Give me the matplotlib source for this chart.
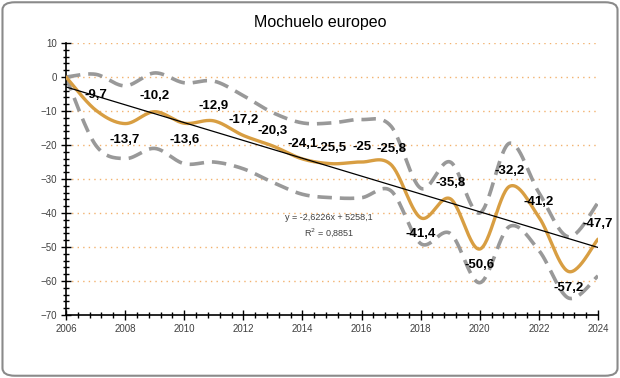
import matplotlib
matplotlib.use("Agg")
import matplotlib.pyplot as plt
import numpy as np
from matplotlib.patches import FancyBboxPatch
from matplotlib.ticker import MultipleLocator

years = list(range(2006, 2025))
index = [0, -9.7, -13.7, -10.2, -13.6, -12.9, -17.2, -20.3, -24.1, -25.5,
         -25, -25.8, -41.4, -35.8, -50.6, -32.2, -41.2, -57.2, -47.7]
upper = [0, 0.8, -2.6, 1.2, -1.7, -1.2, -5.5, -10.5, -13.5, -13.5,
         -12.5, -14.5, -32.7, -25, -40, -19.5, -34, -47, -37]
lower = [0, -20, -24, -21, -25.5, -25, -27, -31, -34.5, -35.5,
         -35.5, -33.5, -49, -46, -60.5, -44, -51, -65, -58.5]
label_side = [0, 1, -1, 1, -1, 1, 1, 1, 1, 1, 1, 1, -1, 1, -1, 1, 1, -1, 1]

ORANGE = "#D89E42"
GREY = "#999999"


def smooth(x, y, n=30):
    # Excel-like smoothed line: cubic bezier through each point
    x = np.asarray(x, float)
    y = np.asarray(y, float)
    px = np.concatenate([[x[0]], x, [x[-1]]])
    py = np.concatenate([[y[0]], y, [y[-1]]])
    xs, ys = [], []
    t = np.linspace(0, 1, n)
    for i in range(len(x) - 1):
        p0 = np.array([px[i + 1], py[i + 1]])
        p3 = np.array([px[i + 2], py[i + 2]])
        c1 = p0 + (p3 - np.array([px[i], py[i]])) / 6
        c2 = p3 - (np.array([px[i + 3], py[i + 3]]) - p0) / 6
        b = ((1 - t) ** 3)[:, None] * p0 + (3 * (1 - t) ** 2 * t)[:, None] * c1 \
            + (3 * (1 - t) * t ** 2)[:, None] * c2 + (t ** 3)[:, None] * p3
        xs.extend(b[:, 0])
        ys.extend(b[:, 1])
    return np.array(xs), np.array(ys)


plt.rcParams['font.family'] = ['Liberation Sans', 'DejaVu Sans']

fig = plt.figure(figsize=(6.2, 3.78), dpi=100)
fig.patches.append(FancyBboxPatch((0.004, 0.006), 0.992, 0.988,
                                  boxstyle="round,pad=0,rounding_size=0.02",
                                  transform=fig.transFigure, fill=False,
                                  edgecolor="#8a8a8a", linewidth=1.5))

ax = fig.add_axes([0.1065, 0.1667, 0.858, 0.7195])

for yv in range(-60, 11, 10):
    ax.axhline(yv, color="#F2B26E", linestyle=(0, (1, 3)), linewidth=1, zorder=0)

ux, uy = smooth(years, upper)
lx, ly = smooth(years, lower)
ax.plot(ux, uy, color=GREY, linewidth=2.6, dashes=(4, 2.2), zorder=2)
ax.plot(lx, ly, color=GREY, linewidth=2.6, dashes=(4, 2.2), zorder=2)

ix, iy = smooth(years, index)
ax.plot(ix, iy, color=ORANGE, linewidth=2.4, zorder=3, solid_capstyle="round")

slope, icpt = np.polyfit(years, index, 1)
tx = np.array([years[0], years[-1]])
ax.plot(tx, slope * tx + icpt, color="black", linewidth=0.9, zorder=4)

for yr, v, s in zip(years, index, label_side):
    if s == 0:
        continue
    off = 4.5 if s > 0 else -4.8
    lab = f"{v:g}".replace(".", ",")
    ax.text(yr, v + off, lab, ha="center", va="center", fontsize=9.5,
            fontweight="bold", color="black", zorder=5)

ax.text(2014.9, -43.8, "y = -2,6226x + 5258,1\nR$^2$ = 0,8851", ha="center",
        va="center", fontsize=6.5, color="#404040", linespacing=1.4)

ax.set_xlim(2006, 2024)
ax.set_ylim(-70, 10)
ax.xaxis.set_major_locator(MultipleLocator(2))
ax.xaxis.set_minor_locator(MultipleLocator(0.4))
ax.yaxis.set_major_locator(MultipleLocator(10))
ax.yaxis.set_minor_locator(MultipleLocator(2))
ax.tick_params(which="major", direction="inout", length=7, width=1,
               labelsize=7, labelcolor="#404040", pad=3)
ax.tick_params(which="minor", direction="inout", length=4, width=1)
for side in ("top", "right"):
    ax.spines[side].set_visible(False)
for side in ("left", "bottom"):
    ax.spines[side].set_linewidth(1.2)

fig.text(0.516, 0.94, "Mochuelo europeo", ha="center", va="center",
         fontsize=11.5, color="black")

fig.savefig("out.png", dpi=100)
